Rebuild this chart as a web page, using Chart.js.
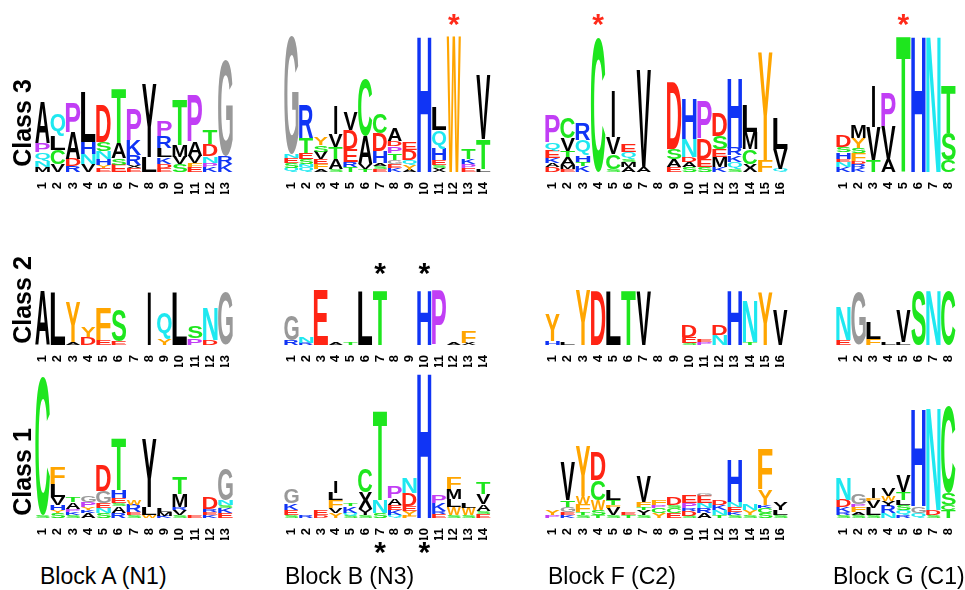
<!DOCTYPE html>
<html>
<head>
<meta charset="utf-8">
<script src="https://cdn.jsdelivr.net/npm/chart.js@4.4.1/dist/chart.umd.min.js"></script>
<style>
  body { margin: 0; width: 965px; height: 590px; overflow: hidden; background: #fff; position: relative;
         font-family: 'Liberation Sans', Arial, sans-serif; }
  canvas { position: absolute; }
  .rowlab { position: absolute; width: 130px; height: 30px; line-height: 30px; text-align: center;
            font-weight: bold; font-size: 25px; transform: rotate(-90deg); white-space: nowrap; }
  .blocklab { position: absolute; top: 563px; font-size: 23px; white-space: nowrap; }
</style>
</head>
<body>
<script>
// --- DADOS: cada posição = letras de baixo para cima, "Letra altura" ---
// (letra minúscula = mesma letra desenhada a preto, como no original)
const rowNames = ['Class 3', 'Class 2', 'Class 1'];
const blockNames = ['Block A (N1)', 'Block B (N3)', 'Block F (C2)', 'Block G (C1)'];
const rowScaleMax = [137, 55, 145];

const class3A = ['M5 N6 Q9 P9 A42', 'V8 C14 L14 Q22', 'R6 D7 A27 P30', 'V8 N10 H12 L50', 'E4 Y3 H6 N8 S9 D37',
  'E7 S7 A15 T54', 'E4 X3 R10 K15 P31', 'L15 y73', 'E4 D4 K7 L9 R12 P16', 'S8 V7 M12 T45',
  'E5 F4 V7 A14 P47', 'K5 P4 N7 D12 T14', 'K8 R8 G96'];
const class3B = ['Q4 S5 E5 N4 G118', 'Q5 N3 S5 E6 T15 R33', 'A3 F5 E5 V7 S7 Y8', 'S3 A10 T12 V13 I29',
  'T5 R5 E13 D19 V18', 'T3 V5 A28 C57', 'E3 S3 A3 H12 D18 C19', 'K4 E4 G4 T7 P7 D5 A13', 'A2 Y5 Q5 D10 E7',
  'H136', 'X4 S3 E5 H11 Q19 L23', 'W136', 'E4 P4 K5 T10', 'L3 T30 V64'];
const class3F = ['D5 A4 K5 E7 Q9 P27', 'E3 M4 A8 T6 V13 C21', 'K6 T4 H7 Q15 R17', 'C135', 'S3 C15 V17 I47',
  'A5 M5 S3 Q7 E8', 'A5 V97', '', 'E5 A8 S10 D67', 'S5 A5 D5 N18 H40', 'S5 E8 D20 P37',
  'K5 M10 E8 S13 D23', 'S3 Q7 K7 R7 H70', 'X8 C15 M17 L27', 'F12 Y107', 'Q3 V20 L30'];
const class3G = ['K5 N5 E3 H7 S5 D12', 'K4 R4 D3 F8 S5 Y10 M13', 'T12 V33 I42', 'A13 V33 P34',
  'T136', 'H136', 'N136', 'C12 S27 T48'];

const class2A = ['A55', 'L52', 'A3 Y39', 'D8 Y10', 'E5 F32', 'E4 S32', '', 'I53', 'Y6 Q27', 'L53',
  'P7 S12', 'D5 N32', 'G53'];
const class2B = ['R5 G25', 'R2 N6', 'E55', 'A2', 'T3', 'L54', 'T54', '', '', 'H54', 'P54', 'A2', 'X2 F12', ''];
const class2F = ['H4 Y27', 'L2', 'Y55', 'D54', 'L54', 'T54', 'V54', '', '', 'S2 E6 D12', 'P3 E3', 'N10 D10',
  'H55', 'T3 N42', 'Y52', 'V35'];
const class2G = ['E5 N33', 'G53', 'F6 L16', 'L3', 'L3 V32', 'S54', 'N54', 'C54'];

const class1A = ['S3 C139', 'S5 Y3 H5 V8 L13 F17', 'S3 K3 P3 A7 T5', 'A5 K3 Y3 P5 G7', 'S5 N5 E5 G12 D25',
  'R5 A7 S3 E5 H8 T52', 'S3 E3 R7 W5', 'W3 L8 y68', 'K2 M4 L4', 'S3 V5 R3 M13 T17', 'E3',
  'K3 E3 R3 D12', 'E5 K5 S3 N5 G32'];
const class1B = ['S3 E5 K7 G15', 'R2', 'D3 E5', 'Y5 V5 F8 L7 I11', 'S2 Q3 K7 T3', 'S3 y6 X17 C24',
  'S5 N13 T90', 'Q3 K5 E5 A7 P12', 'F2 Y5 E5 D13 N15', 'H145', 'E4 R3 K8 P8', 'S3 W8 L8 M10 F12',
  'S3 W7 L5', 'E4 S3 A7 V10 T12'];
const class1F = ['P3 Y5', 'K3 E3 G5 T7 V38', 'S3 T3 F8 W8 Y50', 'T3 S5 W10 C20 D28', 'S3 V7 F3 T5 L10',
  'T3 E3', 'S3 y5 T3 F5 V25', 'Y5 C5 P3 F5', 'E5 C5 S3 D7', 'S2 D5 R3 P5 E7', 'A5 R5 N5 E7 G3',
  'T3 N5 K5 D5', 'S3 K3 E5 N5 H43', 'S3 Y5 N7', 'S5 C5 K3 Y15 F40', 'S3 L5 y8'];
const class1G = ['S3 R3 K5 D7 N22', 'S3 A3 F5 P3 G10', 'S3 L7 V7 F3 I10', 'N5 R7 y5 W5 V8',
  'R3 Q5 S5 L5 T8 V17', 'Q5 G7 H98', 'S3 D5 N102', 'T8 C5 S12 C87'];

// asteriscos (posição 1-based)
const starsClass3 = { B: [12], F: [4], G: [5] };
const starsClass2 = { B: [7, 10] };
const starsClass1 = { B: [7, 10] };

const letterColors = {
  A: '#000000', V: '#000000', L: '#000000', I: '#000000', M: '#000000', X: '#000000', y: '#000000',
  F: '#ffa500', Y: '#ffa500', W: '#ffa500',
  G: '#999999', P: '#c13ef5',
  T: '#1ee61e', S: '#1ee61e', C: '#1ee61e',
  N: '#1ee8f0', Q: '#1ee8f0',
  D: '#ff2414', E: '#ff2414',
  H: '#1034f5', K: '#1034f5', R: '#1034f5'
};

// --- LAYOUT ---
const rowBox = [{ top: 35, h: 137 }, { top: 290, h: 55 }, { top: 373, h: 145 }];
const blockBox = { A: { left: 35, w: 208 }, B: { left: 284, w: 217 }, F: { left: 545, w: 253 }, G: { left: 836, w: 130 } };
const PAD_TOP = 30, PAD_BOTTOM = 22, AXIS_H = 22;

function parseStack(str) {
  if (!str) return [];
  return str.split(' ').map(t => [t[0], parseFloat(t.slice(1))]);
}

function drawGlyph(ctx, key, x, y, w, h) {
  if (h < 0.4) return;
  const ch = key.toUpperCase();
  // o I fica fino, como no logo original
  if (ch === 'I') { const w2 = w * 0.22; x += (w - w2) / 2; w = w2; }
  ctx.save();
  ctx.font = 'bold 100px "Liberation Sans"';
  ctx.textBaseline = 'alphabetic';
  ctx.textAlign = 'left';
  const m = ctx.measureText(ch);
  const gl = m.actualBoundingBoxLeft, gr = m.actualBoundingBoxRight;
  const ga = m.actualBoundingBoxAscent, gd = m.actualBoundingBoxDescent;
  ctx.translate(x, y);
  ctx.scale(w / (gl + gr), h / (ga + gd));
  ctx.fillStyle = letterColors[key] || '#000';
  ctx.fillText(ch, gl, ga);
  ctx.restore();
}

const logoPlugin = {
  id: 'logo',
  afterDatasetsDraw(chart, args, opts) {
    const ctx = chart.ctx;
    chart.data.datasets.forEach((ds, k) => {
      const meta = chart.getDatasetMeta(k);
      meta.data.forEach((bar, i) => {
        const item = opts.stacks[i][k];
        if (!item) return;
        const p = bar.getProps(['x', 'y', 'base', 'width'], true);
        drawGlyph(ctx, item[0], p.x - p.width / 2, Math.min(p.y, p.base), p.width, Math.abs(p.base - p.y));
      });
    });
  }
};

const starPlugin = {
  id: 'stars',
  afterDraw(chart, args, opts) {
    if (!opts.at || !opts.at.length) return;
    const ctx = chart.ctx, a = chart.chartArea, xs = chart.scales.x;
    ctx.save();
    ctx.font = 'bold 30px "Liberation Sans"';
    ctx.fillStyle = opts.color;
    ctx.textAlign = 'center';
    ctx.textBaseline = 'alphabetic';
    const m = ctx.measureText('*');
    const cy = opts.below ? a.bottom + opts.offset : a.top - opts.offset;
    opts.at.forEach(pos => {
      const x = xs.getPixelForValue(pos - 1);
      ctx.fillText('*', x, cy + (m.actualBoundingBoxAscent - m.actualBoundingBoxDescent) / 2);
    });
    ctx.restore();
  }
};

function makePanel(stackStrs, row, block, stars) {
  const stacks = stackStrs.map(parseStack);
  const box = blockBox[block], r = rowBox[row];
  const canvas = document.createElement('canvas');
  const H = PAD_TOP + r.h + AXIS_H + PAD_BOTTOM;
  canvas.width = box.w; canvas.height = H;
  canvas.style.left = box.left + 'px';
  canvas.style.top = (r.top - PAD_TOP) + 'px';
  canvas.style.width = box.w + 'px'; canvas.style.height = H + 'px';
  document.body.appendChild(canvas);

  const layers = Math.max(...stacks.map(s => s.length));
  const datasets = [];
  for (let k = 0; k < layers; k++) {
    datasets.push({
      data: stacks.map(s => (s[k] ? s[k][1] : 0)),
      backgroundColor: 'rgba(0,0,0,0)',
      borderWidth: 0,
      barPercentage: 0.96,
      categoryPercentage: 1
    });
  }

  new Chart(canvas, {
    type: 'bar',
    data: { labels: stacks.map((_, i) => String(i + 1)), datasets },
    options: {
      responsive: false,
      animation: false,
      events: [],
      layout: { padding: { top: PAD_TOP, bottom: PAD_BOTTOM, left: 0, right: 0 } },
      plugins: {
        legend: { display: false },
        tooltip: { enabled: false },
        logo: { stacks },
        stars: stars || {}
      },
      scales: {
        x: {
          stacked: true,
          grid: { display: false },
          border: { display: false },
          afterFit: s => { s.height = AXIS_H; },
          ticks: {
            autoSkip: false, minRotation: 90, maxRotation: 90, padding: 2, color: '#000',
            font: { family: 'Liberation Sans', size: 13, weight: 'bold' }
          }
        },
        y: { stacked: true, display: false, min: 0, max: rowScaleMax[row] }
      }
    },
    plugins: [logoPlugin, starPlugin]
  });
}

const red = '#ff2a1a';
makePanel(class3A, 0, 'A');
makePanel(class3B, 0, 'B', { at: starsClass3.B, color: red, offset: 15 });
makePanel(class3F, 0, 'F', { at: starsClass3.F, color: red, offset: 15 });
makePanel(class3G, 0, 'G', { at: starsClass3.G, color: red, offset: 15 });
makePanel(class2A, 1, 'A');
makePanel(class2B, 1, 'B', { at: starsClass2.B, color: '#000', offset: 21 });
makePanel(class2F, 1, 'F');
makePanel(class2G, 1, 'G');
makePanel(class1A, 2, 'A');
makePanel(class1B, 2, 'B', { at: starsClass1.B, color: '#000', offset: 30, below: true });
makePanel(class1F, 2, 'F');
makePanel(class1G, 2, 'G');

// rótulos das linhas e blocos
const rowCenters = [123, 300, 472];
rowNames.forEach((name, i) => {
  const d = document.createElement('div');
  d.className = 'rowlab';
  d.textContent = name;
  d.style.left = (22 - 65) + 'px';
  d.style.top = (rowCenters[i] - 15) + 'px';
  document.body.appendChild(d);
});
const blockLeft = [40, 285, 548, 833];
blockNames.forEach((name, i) => {
  const d = document.createElement('div');
  d.className = 'blocklab';
  d.textContent = name;
  d.style.left = blockLeft[i] + 'px';
  document.body.appendChild(d);
});
</script>
</body>
</html>
